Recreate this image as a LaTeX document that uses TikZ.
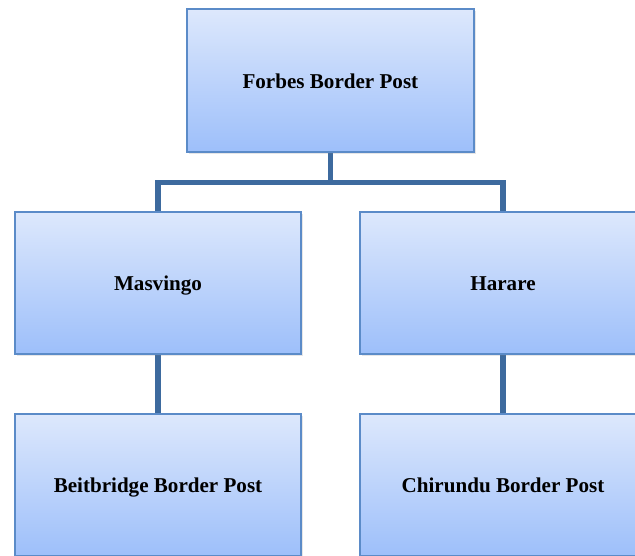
\documentclass[tikz,border=0pt]{standalone}
\usepackage{fontspec}
\setmainfont{Liberation Serif}
\usetikzlibrary{positioning,shadows,backgrounds}

\definecolor{boxtop}{HTML}{DDE8FC}
\definecolor{boxbot}{HTML}{9DBFFA}
\definecolor{boxline}{HTML}{5B8BC8}
\definecolor{linkcol}{HTML}{3D6A9E}

\tikzset{
  postbox/.style={draw=boxline, line width=1.3pt, top color=boxtop, bottom color=boxbot,
    minimum width=7.15cm, minimum height=3.55cm, inner sep=0pt,
    text height=13pt, text depth=2pt,
    font=\fontsize{15}{18}\selectfont\bfseries,
    drop shadow={opacity=0.2, shadow xshift=0.06cm, shadow yshift=-0.06cm}},
  link/.style={linkcol, line width=3.6pt}
}

\begin{document}
\begin{tikzpicture}
\useasboundingbox (0,0) rectangle (15.875,-13.875);
% Top level
\node[postbox, minimum width=7.175cm, minimum height=3.575cm] (forbes) at (8.26,-2.01) {Forbes Border Post};
% Middle level
\node[postbox] (masvingo) at (3.95,-7.075) {Masvingo};
\node[postbox] (harare) at (12.575,-7.075) {Harare};
% Bottom level
\node[postbox] (beitbridge) at (3.95,-12.125) {Beitbridge Border Post};
\node[postbox] (chirundu) at (12.575,-12.125) {Chirundu Border Post};
% Connectors
\begin{scope}[on background layer]
\draw[link] (forbes.south) -- ++(0,-0.75) -| (masvingo.north);
\draw[link] (forbes.south) -- ++(0,-0.75) -| (harare.north);
\draw[link] (masvingo.south) -- (beitbridge.north);
\draw[link] (harare.south) -- (chirundu.north);
\end{scope}
\end{tikzpicture}
\end{document}
